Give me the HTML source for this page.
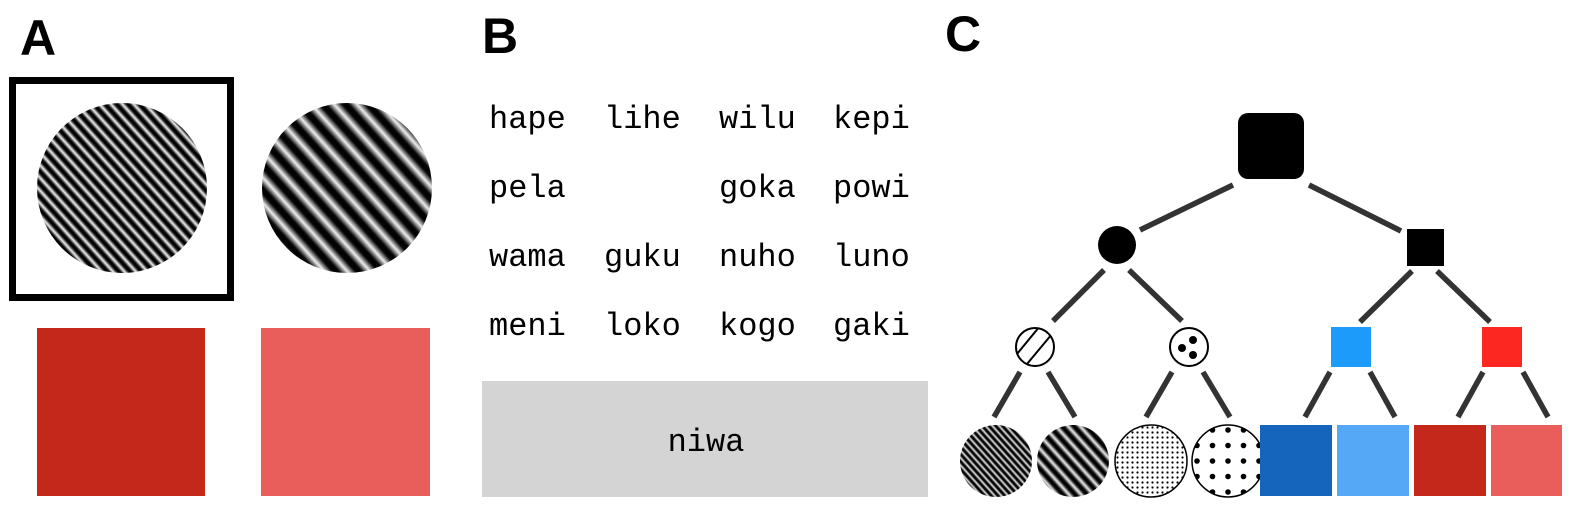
<!DOCTYPE html>
<html><head><meta charset="utf-8"><style>
html,body{margin:0;padding:0;background:#fff;}
svg{display:block;}
.lbl{font-family:"Liberation Sans",sans-serif;font-weight:bold;font-size:50px;fill:#000;}
.w{font-family:"Liberation Mono",monospace;font-size:32px;fill:#000;}
</style></head><body>
<svg width="1578" height="508" viewBox="0 0 1578 508" xmlns="http://www.w3.org/2000/svg">
<defs>
<linearGradient id="gr" x1="0" y1="0" x2="1" y2="0">
<stop offset="0" stop-color="#000"/><stop offset="0.15" stop-color="#080808"/><stop offset="0.5" stop-color="#f0f0f0"/><stop offset="0.85" stop-color="#080808"/><stop offset="1" stop-color="#000"/>
</linearGradient>
<pattern id="fine" width="8.5" height="20" patternUnits="userSpaceOnUse" patternTransform="rotate(-42)"><rect width="8.5" height="20" fill="url(#gr)"/></pattern>
<pattern id="coarse" width="17" height="20" patternUnits="userSpaceOnUse" patternTransform="rotate(-42)"><rect width="17" height="20" fill="url(#gr)"/></pattern>
<pattern id="fine2" width="5" height="20" patternUnits="userSpaceOnUse" patternTransform="rotate(-42)"><rect width="5" height="20" fill="url(#gr)"/></pattern>
<pattern id="coarse2" width="9" height="20" patternUnits="userSpaceOnUse" patternTransform="rotate(-42)"><rect width="9" height="20" fill="url(#gr)"/></pattern>
<pattern id="dfine" width="5" height="5" patternUnits="userSpaceOnUse"><circle cx="2.5" cy="2.5" r="1.1" fill="#000"/></pattern>
<pattern id="dsparse" width="15.5" height="15.5" patternUnits="userSpaceOnUse" x="1228" y="461"><circle cx="0" cy="0" r="2.8" fill="#000"/><circle cx="15.5" cy="0" r="2.8" fill="#000"/><circle cx="0" cy="15.5" r="2.8" fill="#000"/><circle cx="15.5" cy="15.5" r="2.8" fill="#000"/></pattern>
</defs>

<!-- Panel A -->
<text class="lbl" x="20" y="55">A</text>
<rect x="12.5" y="80.5" width="218" height="217" fill="none" stroke="#000" stroke-width="7"/>
<circle cx="122" cy="188" r="85" fill="url(#fine)"/>
<circle cx="347" cy="188" r="85" fill="url(#coarse)"/>
<rect x="37" y="328" width="168" height="168" fill="#c4281a"/>
<rect x="261" y="328" width="169" height="168" fill="#e95e5a"/>

<!-- Panel B -->
<text class="lbl" x="482" y="53">B</text>
<g>
<text class="w" x="489" y="128">hape</text>
<text class="w" x="604" y="128">lihe</text>
<text class="w" x="719" y="128">wilu</text>
<text class="w" x="833" y="128">kepi</text>
<text class="w" x="489" y="197">pela</text>
<text class="w" x="719" y="197">goka</text>
<text class="w" x="833" y="197">powi</text>
<text class="w" x="489" y="266">wama</text>
<text class="w" x="604" y="266">guku</text>
<text class="w" x="719" y="266">nuho</text>
<text class="w" x="833" y="266">luno</text>
<text class="w" x="489" y="335">meni</text>
<text class="w" x="604" y="335">loko</text>
<text class="w" x="719" y="335">kogo</text>
<text class="w" x="833" y="335">gaki</text>
</g>
<rect x="482" y="381" width="446" height="116" fill="#d4d4d4"/>
<text class="w" x="706" y="451" text-anchor="middle">niwa</text>

<!-- Panel C -->
<text class="lbl" x="945" y="51">C</text>
<g stroke="#333" stroke-width="5.5">
<line x1="1233" y1="185" x2="1140" y2="230"/>
<line x1="1309" y1="185" x2="1401" y2="231"/>
<line x1="1104" y1="270" x2="1053" y2="321"/>
<line x1="1129" y1="270" x2="1182" y2="321"/>
<line x1="1412" y1="271" x2="1360" y2="322"/>
<line x1="1437" y1="271" x2="1490" y2="322"/>
<line x1="1020" y1="372" x2="994" y2="417"/>
<line x1="1048" y1="372" x2="1075" y2="417"/>
<line x1="1172" y1="372" x2="1146" y2="417"/>
<line x1="1203" y1="372" x2="1230" y2="417"/>
<line x1="1330" y1="372" x2="1305" y2="417"/>
<line x1="1370" y1="372" x2="1395" y2="417"/>
<line x1="1483" y1="372" x2="1458" y2="417"/>
<line x1="1523" y1="372" x2="1548" y2="417"/>
</g>
<rect x="1238" y="113" width="66" height="66" rx="10" fill="#000"/>
<circle cx="1117" cy="245" r="19" fill="#000"/>
<rect x="1407" y="229" width="37" height="37" fill="#000"/>
<g>
<clipPath id="hc"><circle cx="1035" cy="347" r="19"/></clipPath>
<circle cx="1035" cy="347" r="19" fill="#fff"/>
<g clip-path="url(#hc)" stroke="#000" stroke-width="2"><line x1="1012" y1="360" x2="1040" y2="326"/><line x1="1022" y1="370" x2="1052" y2="334"/></g>
<circle cx="1035" cy="347" r="19" fill="none" stroke="#000" stroke-width="2"/>
</g>
<g>
<circle cx="1189" cy="347" r="19" fill="#fff" stroke="#000" stroke-width="2"/>
<circle cx="1182" cy="348" r="4" fill="#000"/><circle cx="1193" cy="340" r="4" fill="#000"/><circle cx="1193" cy="355" r="4" fill="#000"/>
</g>
<rect x="1331" y="327" width="40" height="40" fill="#1c9bfb"/>
<rect x="1482" y="327" width="40" height="40" fill="#fb2720"/>
<circle cx="996" cy="461" r="36" fill="url(#fine2)"/>
<circle cx="1073" cy="461" r="36" fill="url(#coarse2)"/>
<circle cx="1151" cy="461" r="36" fill="url(#dfine)" stroke="#000" stroke-width="1.5"/>
<circle cx="1228" cy="461" r="36" fill="url(#dsparse)" stroke="#000" stroke-width="1.5"/>
<rect x="1260" y="425" width="72" height="71" fill="#1565bd"/>
<rect x="1337" y="425" width="72" height="71" fill="#55a8f5"/>
<rect x="1414" y="425" width="72" height="71" fill="#c4281a"/>
<rect x="1491" y="425" width="71" height="71" fill="#e95e5a"/>
</svg>
</body></html>
